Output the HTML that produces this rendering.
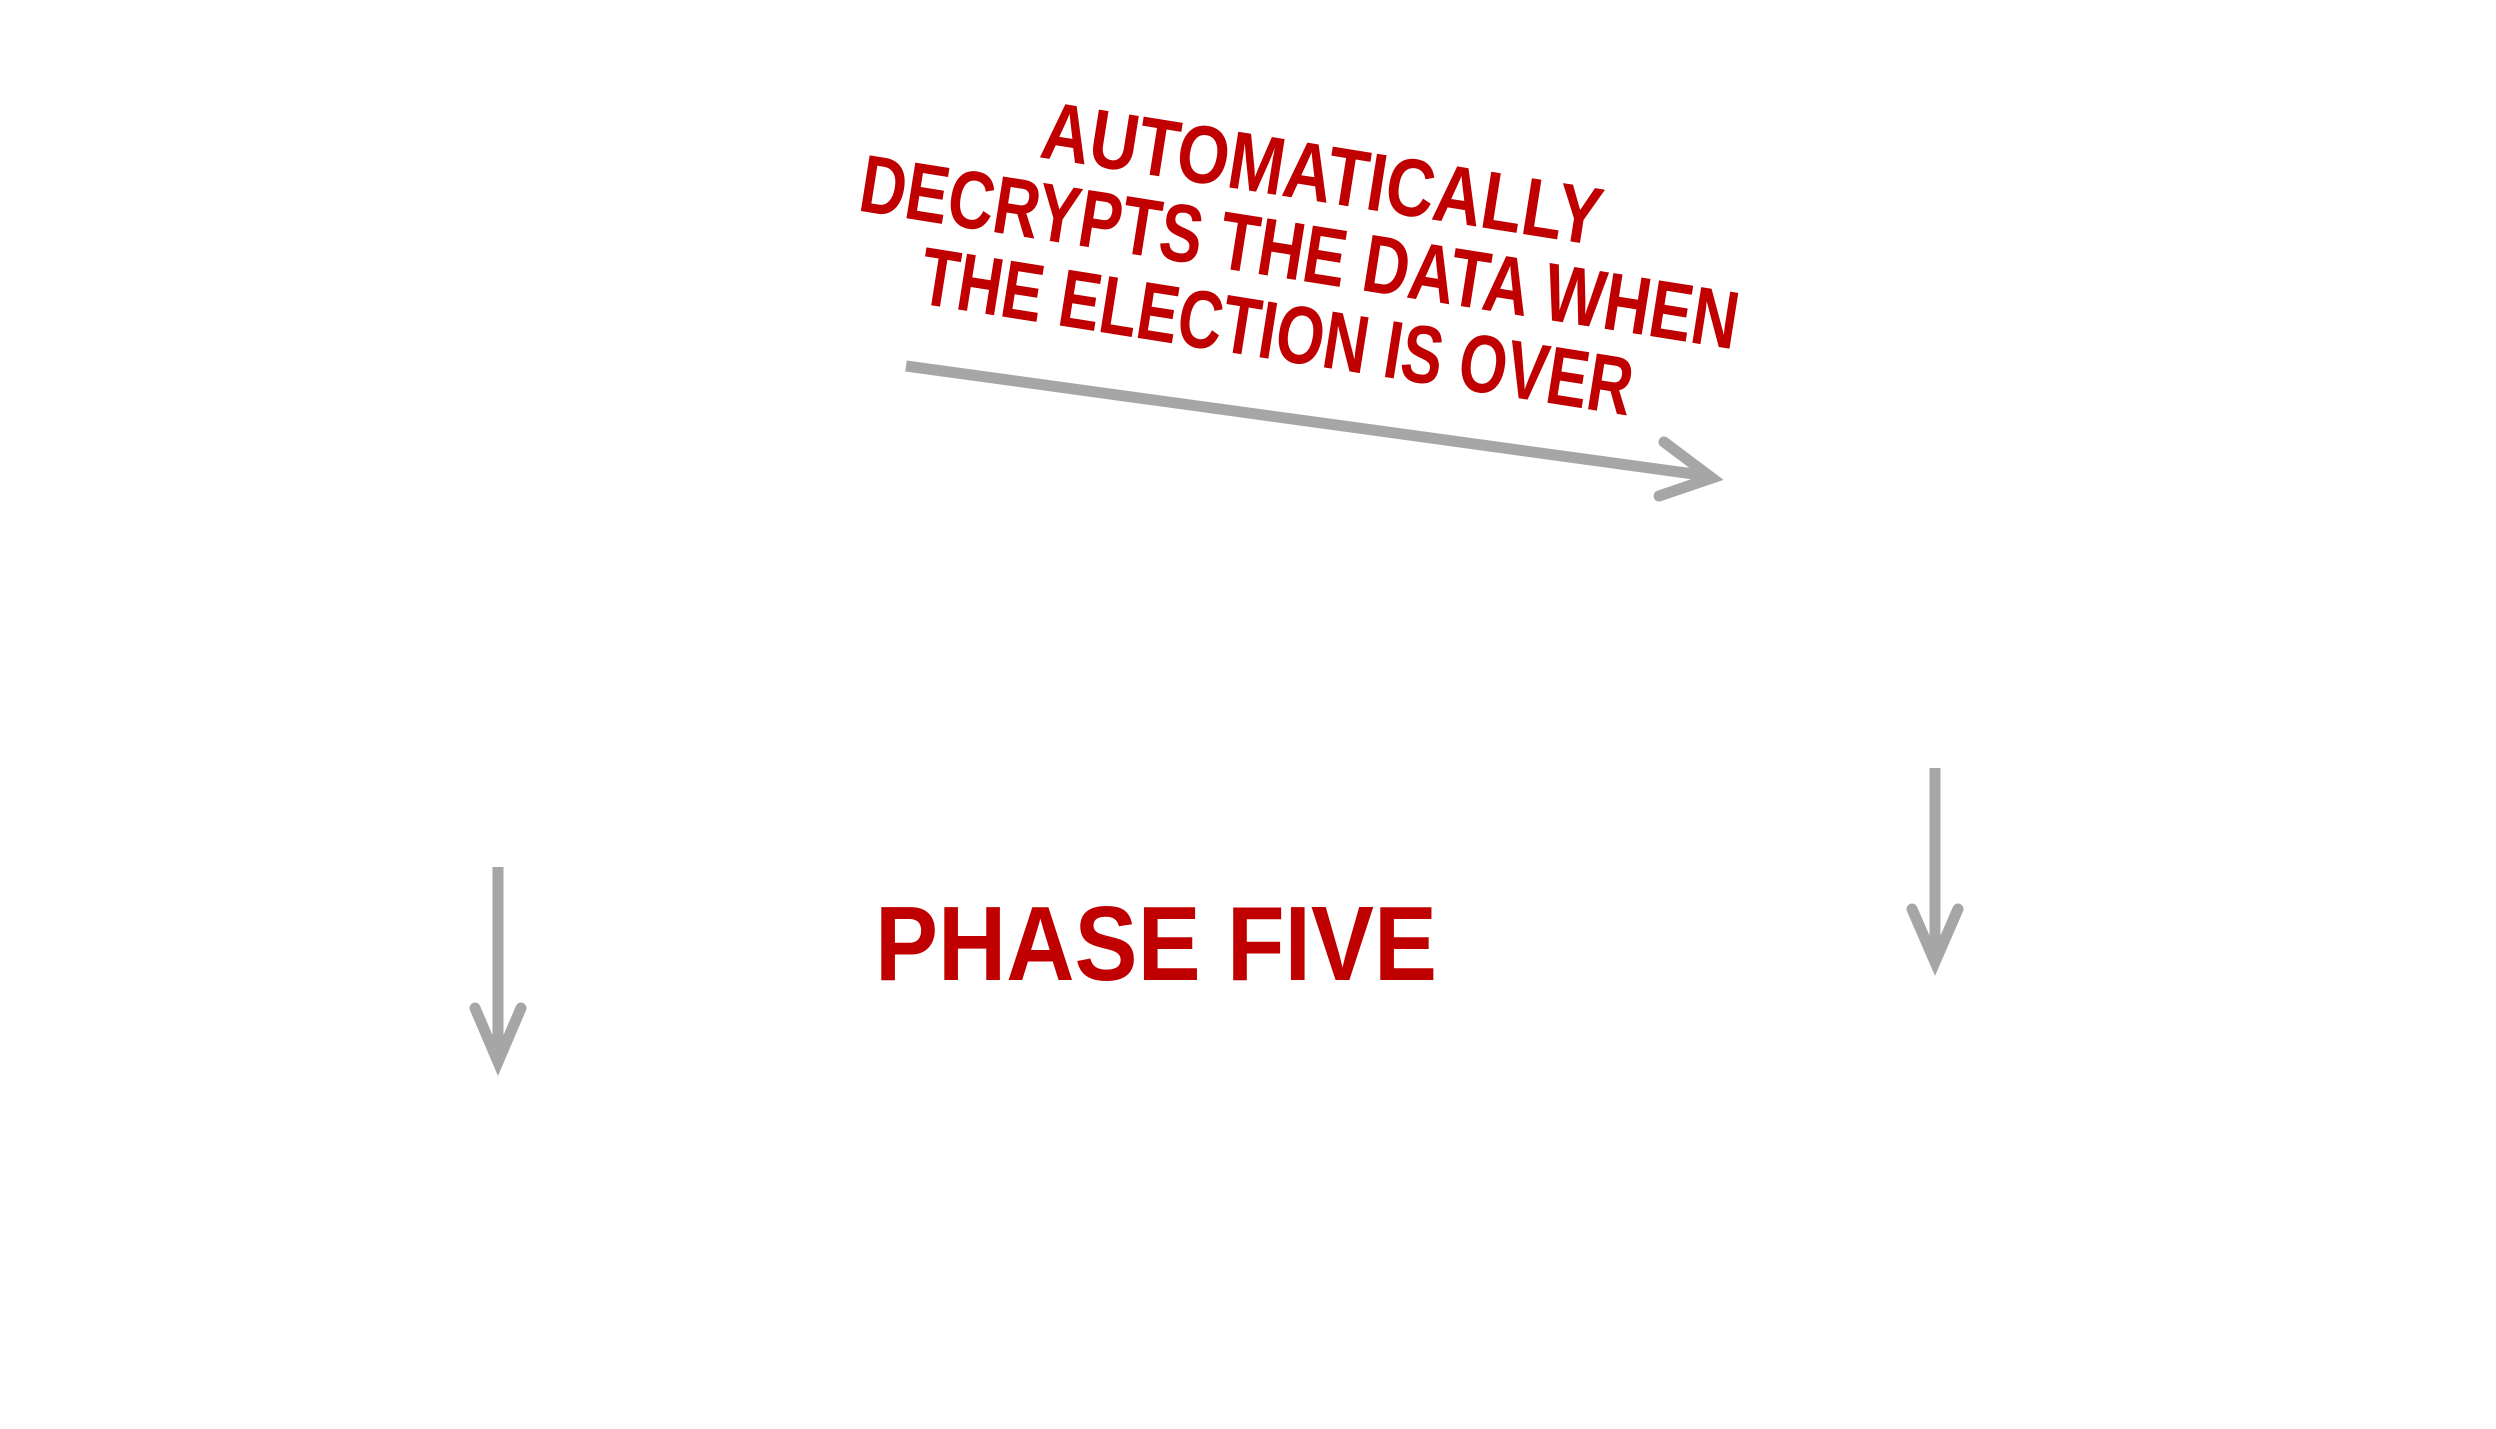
<!DOCTYPE html>
<html><head><meta charset="utf-8"><style>
html,body{margin:0;padding:0;background:#fff;}
svg{display:block;}
</style></head><body>
<svg width="2496" height="1429" viewBox="0 0 2496 1429" xmlns="http://www.w3.org/2000/svg">
<g stroke="#a6a6a6" fill="none" stroke-linecap="round" stroke-linejoin="miter">
  <line x1="906" y1="366" x2="1708" y2="476" stroke-width="11" stroke-linecap="butt"/>
  <polyline points="1664,442 1712,478 1659,496" stroke-width="11"/>
  <line x1="498" y1="867" x2="498" y2="1058" stroke-width="11" stroke-linecap="butt"/>
  <polyline points="475,1008 498,1062 521,1008" stroke-width="11"/>
  <line x1="1935" y1="768" x2="1935" y2="958" stroke-width="11" stroke-linecap="butt"/>
  <polyline points="1912,909 1935,962 1958,909" stroke-width="11"/>
</g>
<g fill="#c00000" font-family="Liberation Sans, sans-serif" font-weight="bold" text-anchor="middle">
  <text x="875" y="980" font-size="106" textLength="562" lengthAdjust="spacingAndGlyphs" text-anchor="start">PHASE FIVE</text>
  <g transform="rotate(9 1305 250)">
    <text x="1310" y="200" font-size="82" textLength="566" lengthAdjust="spacingAndGlyphs">AUTOMATICALLY</text>
    <text x="1300" y="281" font-size="82" textLength="888" lengthAdjust="spacingAndGlyphs">DECRYPTS THE DATA WHEN</text>
    <text x="1290" y="363" font-size="82" textLength="720" lengthAdjust="spacingAndGlyphs">THE ELECTION IS OVER</text>
  </g>
</g>
</svg>
</body></html>
